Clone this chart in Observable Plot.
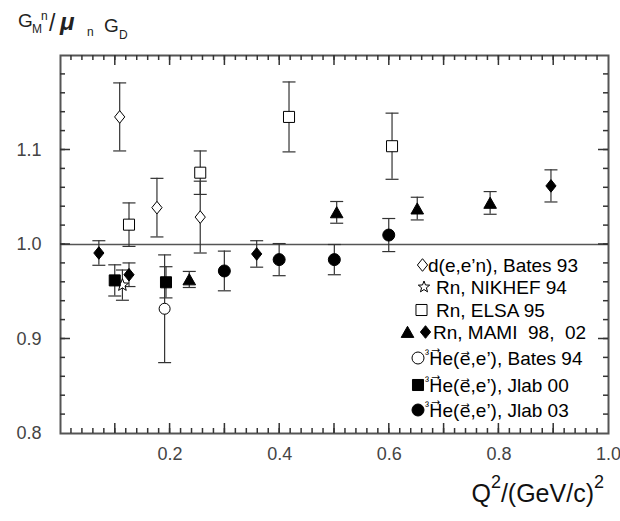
<!DOCTYPE html>
<html><head><meta charset="utf-8">
<script src="https://cdn.jsdelivr.net/npm/d3@7"></script>
<script src="https://cdn.jsdelivr.net/npm/@observablehq/plot@0.6"></script>
<style>
body{margin:0;background:#fff;}
#chart{position:relative;width:620px;height:521px;}
</style></head><body><div id="chart"></div>
<script>
// ---- data (Q^2 in (GeV/c)^2, G_M^n / mu_n G_D, error) ----
const bates93X = [0.108, 0.176, 0.255];
const bates93Y = [1.135, 1.039, 1.029];
const bates93E = [0.036, 0.031, 0.038];

const nikhef94X = [0.113];
const nikhef94Y = [0.957];
const nikhef94E = [0.016];

const elsa95X = [0.125, 0.255, 0.417, 0.605];
const elsa95Y = [1.021, 1.076, 1.135, 1.104];
const elsa95E = [0.023, 0.023, 0.037, 0.035];

const mami98X = [0.235, 0.504, 0.651, 0.784];
const mami98Y = [0.963, 1.034, 1.038, 1.044];
const mami98E = [0.0085, 0.0115, 0.012, 0.012];

const mami02X = [0.070, 0.125, 0.358, 0.895];
const mami02Y = [0.991, 0.968, 0.990, 1.062];
const mami02E = [0.013, 0.0125, 0.014, 0.017];

const bates94X = [0.190];
const bates94Y = [0.932];
const bates94E = [0.057];

const jlab00X = [0.099, 0.1925];
const jlab00Y = [0.962, 0.960];
const jlab00E = [0.0165, 0.0165];

const jlab03X = [0.299, 0.399, 0.4997, 0.599];
const jlab03Y = [0.972, 0.984, 0.984, 1.010];
const jlab03E = [0.021, 0.017, 0.016, 0.0175];

const xTickLabels = [0.2, 0.4, 0.6, 0.8, 1.0];
const yTickLabels = [0.8, 0.9, 1.0, 1.1];
const xMajorTicks = [0.1, 0.2, 0.3, 0.4, 0.5, 0.6, 0.7, 0.8, 0.9];
const yMajorTicks = [0.9, 1.0, 1.1];
const xMinorTicks = d3.range(1, 50).map(i => i * 0.02);
const yMinorTicks = d3.range(41, 60).map(i => i * 0.02);

// legend labels: plain string, or [sup, arrowed, text, arrowed, text]
const legendLabels = [
  "d(e,e\u2019n), Bates 93",
  "Rn, NIKHEF 94",
  "Rn, ELSA 95",
  "Rn, MAMI  98,  02",
  ["\u00B3", "H\u20D7", "e(", "e\u20D7", ",e\u2019), Bates 94"],
  ["\u00B3", "H\u20D7", "e(", "e\u20D7", ",e\u2019), Jlab 00"],
  ["\u00B3", "H\u20D7", "e(", "e\u20D7", ",e\u2019), Jlab 03"]
];

// ---- symbols ----
const R = s => Math.sqrt(s / Math.PI);
const sym = {
  diamond: {draw(c, s){const r=R(s); c.moveTo(0,-1.05*r); c.lineTo(0.85*r,0); c.lineTo(0,1.05*r); c.lineTo(-0.85*r,0); c.closePath();}},
  square: {draw(c, s){const h=0.92*R(s); c.rect(-h,-h,2*h,2*h);}},
  triangle: {draw(c, s){const r=R(s); c.moveTo(0,-0.95*r); c.lineTo(1.05*r,0.9*r); c.lineTo(-1.05*r,0.9*r); c.closePath();}},
  circle: {draw(c, s){const r=R(s); c.moveTo(r,0); c.arc(0,0,r,0,2*Math.PI);}},
  star: {draw(c, s){const r=R(s); for(let i=0;i<10;i++){const a=-Math.PI/2+i*Math.PI/5; const rr=i%2?r*0.42:r; const px=rr*Math.cos(a), py=rr*Math.sin(a); if(i) c.lineTo(px,py); else c.moveTo(px,py);} c.closePath();}},
  cap: {draw(c, s){const r=R(s); c.moveTo(-r,0); c.lineTo(r,0);}}
};

const mk = (X, Y, E) => X.map((x, i) => ({x, y: Y[i], lo: Y[i] - E[i], hi: Y[i] + E[i]}));
const series = [
  {data: mk(bates93X, bates93Y, bates93E), symbol: sym.diamond, r: 6, fill: "white"},
  {data: mk(nikhef94X, nikhef94Y, nikhef94E), symbol: sym.star, r: 6.5, fill: "white"},
  {data: mk(elsa95X, elsa95Y, elsa95E), symbol: sym.square, r: 6, fill: "white"},
  {data: mk(mami98X, mami98Y, mami98E), symbol: sym.triangle, r: 6, fill: "black"},
  {data: mk(mami02X, mami02Y, mami02E), symbol: sym.diamond, r: 6, fill: "black"},
  {data: mk(bates94X, bates94Y, bates94E), symbol: sym.circle, r: 5.5, fill: "white"},
  {data: mk(jlab00X, jlab00Y, jlab00E), symbol: sym.square, r: 6, fill: "black"},
  {data: mk(jlab03X, jlab03Y, jlab03E), symbol: sym.circle, r: 6, fill: "black"}
];

// layout
const W = 620, H = 521, mT = 55, mL = 60, mR = 12, mB = 88;
const xDom = [0, 1], yDom = [0.8, 1.2];
const axisCol = "#555";

const marks = [
  Plot.ruleY([1], {stroke: axisCol, strokeWidth: 1.5}),
  Plot.axisX(xTickLabels, {anchor: "bottom", tickSize: 0, tickPadding: 14, tickFormat: d3.format(".1f"), fontSize: 18, fill: "#444", label: null}),
  Plot.axisY(yTickLabels, {anchor: "left", tickSize: 0, tickPadding: 19, tickFormat: d3.format(".1f"), fontSize: 18, fill: "#444", label: null}),
  Plot.frame({stroke: axisCol, strokeWidth: 2})
];
for (const s of series) {
  marks.push(Plot.ruleX(s.data, {x: "x", y1: "lo", y2: "hi", stroke: "#333", strokeWidth: 1.2}));
  marks.push(Plot.dot(s.data, {x: "x", y: "lo", symbol: sym.cap, r: 6.5, stroke: "#333", strokeWidth: 1.2, fill: "none"}));
  marks.push(Plot.dot(s.data, {x: "x", y: "hi", symbol: sym.cap, r: 6.5, stroke: "#333", strokeWidth: 1.2, fill: "none"}));
}
for (const s of series) {
  marks.push(Plot.dot(s.data, {x: "x", y: "y", symbol: s.symbol, r: s.r, fill: s.fill, stroke: "black", strokeWidth: 1}));
}

const chart = Plot.plot({
  width: W, height: H,
  marginTop: mT, marginLeft: mL, marginRight: mR, marginBottom: mB,
  x: {domain: xDom},
  y: {domain: yDom},
  style: {fontFamily: "'Liberation Sans', Arial, sans-serif", fontSize: "18px", background: "white", color: "#222"},
  marks
});
document.getElementById("chart").appendChild(chart);

const svg = d3.select(chart);
const FF = "'Liberation Sans', Arial, sans-serif";

// ---- inward ticks on all four sides, positioned with Plot's own scales ----
const sx = chart.scale("x"), sy = chart.scale("y");
const X0 = sx.apply(xDom[0]), X1 = sx.apply(xDom[1]);
const Y0 = sy.apply(yDom[0]), Y1 = sy.apply(yDom[1]);
const tg = svg.append("g").attr("stroke", "#333").attr("stroke-width", 1.5).attr("fill", "none");
const addX = (ticks, len) => ticks.forEach(v => {
  const px = sx.apply(v);
  tg.append("path").attr("d", `M${px},${Y0}V${Y0 - len}`);
  tg.append("path").attr("d", `M${px},${Y1}V${Y1 + len}`);
});
const addY = (ticks, len) => ticks.forEach(v => {
  const py = sy.apply(v);
  tg.append("path").attr("d", `M${X0},${py}H${X0 + len}`);
  tg.append("path").attr("d", `M${X1},${py}H${X1 - len}`);
});
addX(xMinorTicks, 5); addX(xMajorTicks, 10);
addY(yMinorTicks, 5); addY(yMajorTicks, 10);

// ---- y title (single text element) ----
const yt = svg.append("text").attr("font-family", FF).attr("fill", "#222").attr("text-anchor", "start");
yt.append("tspan").attr("x", 18).attr("y", 27).attr("font-size", 19).text("G");
yt.append("tspan").attr("x", 32).attr("y", 33).attr("font-size", 12).text("M");
yt.append("tspan").attr("x", 41).attr("y", 20).attr("font-size", 12).text("n");
yt.append("tspan").attr("x", 49).attr("y", 31).attr("font-size", 23).text("/");
yt.append("tspan").attr("x", 60).attr("y", 30).attr("font-size", 24).attr("font-style", "italic").attr("font-weight", "bold").text("\u03BC");
yt.append("tspan").attr("x", 87).attr("y", 36).attr("font-size", 12).text("n");
yt.append("tspan").attr("x", 104).attr("y", 32).attr("font-size", 19).text("G");
yt.append("tspan").attr("x", 119).attr("y", 39).attr("font-size", 12).text("D");

// ---- x title ----
const xt = svg.append("text").attr("font-family", FF).attr("fill", "#111").attr("font-size", 25)
  .attr("text-anchor", "end").attr("x", 604).attr("y", 502);
xt.append("tspan").text("Q");
xt.append("tspan").attr("font-size", 18).attr("dy", -14).text("2");
xt.append("tspan").attr("dy", 14).text("/(GeV/c)");
xt.append("tspan").attr("font-size", 18).attr("dy", -14).text("2");

// ---- legend ----
const rowY = [265, 287, 310, 332, 358, 385, 410];
const textX = [428, 436, 436, 433, 425, 425, 425];
const legSyms = [
  [{s: sym.diamond, f: "white", x: 422.5}],
  [{s: sym.star, f: "white", x: 424}],
  [{s: sym.square, f: "white", x: 421.5}],
  [{s: sym.triangle, f: "black", x: 407.5}, {s: sym.diamond, f: "black", x: 425.5}],
  [{s: sym.circle, f: "white", x: 418}],
  [{s: sym.square, f: "black", x: 418}],
  [{s: sym.circle, f: "black", x: 418}]
];
const lg = svg.append("g").attr("font-family", FF).attr("font-size", 19).attr("fill", "#000").attr("text-anchor", "start");
legendLabels.forEach((lab, i) => {
  for (const m of legSyms[i]) {
    lg.append("path").attr("d", d3.symbol().type(m.s).size(Math.PI * 36)())
      .attr("transform", `translate(${m.x},${rowY[i]})`)
      .attr("fill", m.f).attr("stroke", "black").attr("stroke-width", 1);
  }
  const t = lg.append("text").attr("x", textX[i]).attr("y", rowY[i] + 7).style("white-space", "pre");
  if (typeof lab === "string") t.text(lab);
  else {
    t.append("tspan").attr("font-size", 12).attr("dy", -7).text(lab[0]);
    t.append("tspan").attr("dy", 7).attr("font-family", "'DejaVu Sans'").attr("font-size", 18).text(lab[1]);
    t.append("tspan").text(lab[2]);
    t.append("tspan").attr("font-family", "'DejaVu Sans'").attr("font-size", 18).text(lab[3]);
    t.append("tspan").text(lab[4]);
  }
});
</script></body></html>
